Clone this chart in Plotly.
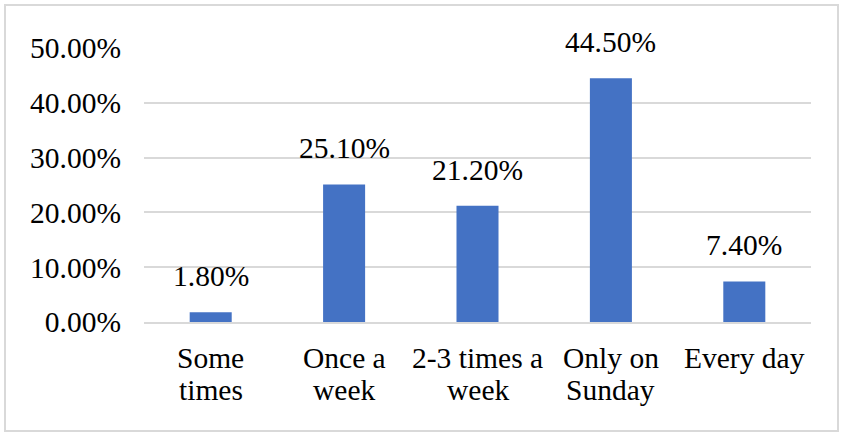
import plotly.graph_objects as go

categories = ["Some times", "Once a week", "2-3 times a week", "Only on Sunday", "Every day"]
category_lines = [["Some", "times"], ["Once a", "week"], ["2-3 times a", "week"], ["Only on", "Sunday"], ["Every day"]]
values = [1.80, 25.10, 21.20, 44.50, 7.40]
value_labels = ["1.80%", "25.10%", "21.20%", "44.50%", "7.40%"]
tick_vals = [0, 10, 20, 30, 40, 50]
tick_text = ["0.00%", "10.00%", "20.00%", "30.00%", "40.00%", "50.00%"]

FONT = "Liberation Serif"
FS = 29.5

fig = go.Figure(go.Bar(
    x=categories, y=values,
    marker=dict(color="#4472C4", line=dict(width=0)),
    width=0.315,
    hoverinfo="skip",
))

for c, v, t in zip(categories, values, value_labels):
    fig.add_annotation(x=c, y=v, text=t, showarrow=False, yanchor="bottom",
                       yshift=18, font=dict(family=FONT, size=FS, color="#000000"))

for c, lines in zip(categories, category_lines):
    for i, ln in enumerate(lines):
        fig.add_annotation(x=c, xref="x", y=0, yref="paper", text=ln, showarrow=False,
                           yanchor="bottom", yshift=-54 - 32 * i,
                           font=dict(family=FONT, size=FS, color="#000000"))

L, R, T, B = 144, 33, 48, 111
W, H = 844, 433
pw, ph = W - L - R, H - T - B
fig.add_shape(type="rect", xref="paper", yref="paper",
              x0=(5 - L) / pw, x1=(838 - L) / pw,
              y0=(H - B - 431) / ph, y1=(H - B - 5) / ph,
              line=dict(color="#d9d9d9", width=2), fillcolor="rgba(0,0,0,0)", layer="below")

fig.update_layout(
    width=W, height=H,
    margin=dict(l=L, r=R, t=T, b=B),
    paper_bgcolor="white", plot_bgcolor="white",
    font=dict(family=FONT, size=FS, color="#000000"),
    showlegend=False,
    xaxis=dict(showgrid=False, showline=True, linecolor="#d9d9d9", linewidth=2,
               ticks="", showticklabels=False),
    yaxis=dict(range=[0, 50], tickvals=tick_vals, ticktext=tick_text,
               showgrid=True, gridcolor="#d9d9d9", gridwidth=2,
               zeroline=False, showline=False, ticks="",
               ticklabelstandoff=22, tickfont=dict(size=FS)),
)

fig.write_html("out.html", config={"displayModeBar": False},
               post_script="document.body.style.margin='0px';document.body.style.padding='0px';")
